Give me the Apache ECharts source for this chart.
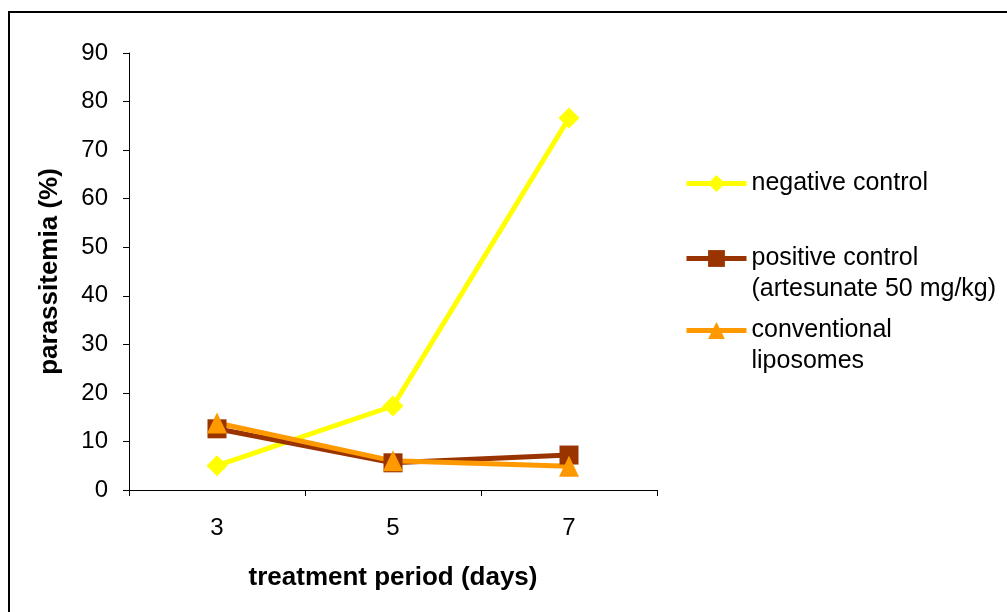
<!DOCTYPE html>
<html>
<head>
<meta charset="utf-8">
<title>parassitemia</title>
<script src="https://cdn.jsdelivr.net/npm/echarts@6/dist/echarts.min.js"></script>
<style>
  html, body { margin: 0; padding: 0; background: #fff; }
  #chart { width: 1007px; height: 612px; }
</style>
</head>
<body>
<div id="chart"></div>
<script>
// data
const days = ['3', '5', '7']
const negativeControl = [5, 17.3, 76.6]
const positiveControl = [12.6, 5.6, 7.2]
const conventionalLiposomes = [13.8, 6.0, 4.9]
const seriesNames = ['negative control', 'positive control', 'conventional liposomes']
// leading blank line keeps the icon level with the first text line
const legendLabels = ['negative control', '\npositive control\n(artesunate 50 mg/kg)', '\nconventional\nliposomes']
const yTicks = [0, 90, 10] // min, max, interval

const font = "'Liberation Sans', Arial, sans-serif"
const colors = ['#FFFF00', '#993300', '#FF9900']
const symbols = ['diamond', 'rect', 'triangle']
const symbolSizes = [[21, 21], [19, 19], [20, 21]]
const legendTops = [168, 212, 284]
const LH = 31

const chart = echarts.init(document.getElementById('chart'), null, { renderer: 'canvas' })

const seriesData = [negativeControl, positiveControl, conventionalLiposomes]

const option = {
  animation: false,
  backgroundColor: '#fff',
  textStyle: { fontFamily: font },
  grid: {
    left: 129,
    right: 350,
    top: 53,
    bottom: 122,
    containLabel: false
  },
  // one legend per entry so the multi-line labels can sit like the original
  legend: seriesNames.map((name, i) => ({
    data: [name],
    orient: 'vertical',
    left: 684,
    top: legendTops[i],
    padding: 0,
    itemWidth: 60,
    itemHeight: 21,
    selectedMode: false,
    lineStyle: { width: 5 },
    formatter: () => legendLabels[i],
    textStyle: {
      fontFamily: font,
      fontSize: 25,
      color: '#000',
      lineHeight: LH
    }
  })),
  xAxis: {
    type: 'category',
    data: days,
    boundaryGap: true,
    name: 'treatment period (days)',
    nameLocation: 'middle',
    nameGap: 75,
    nameTextStyle: { fontFamily: font, fontSize: 26, fontWeight: 'bold', color: '#000' },
    axisLine: { lineStyle: { color: '#000', width: 1 } },
    axisTick: { show: true, length: 6, alignWithLabel: false, lineStyle: { color: '#000' } },
    axisLabel: { margin: 26, fontFamily: font, fontSize: 24, color: '#000' },
    splitLine: { show: false }
  },
  yAxis: {
    type: 'value',
    min: yTicks[0],
    max: yTicks[1],
    interval: yTicks[2],
    name: 'parassitemia (%)',
    nameLocation: 'middle',
    nameGap: 66,
    nameTextStyle: { fontFamily: font, fontSize: 26, fontWeight: 'bold', color: '#000' },
    axisLine: { show: true, lineStyle: { color: '#000', width: 1 } },
    axisTick: { show: true, length: 6, lineStyle: { color: '#000' } },
    axisLabel: { margin: 21, fontFamily: font, fontSize: 24, color: '#000' },
    splitLine: { show: false }
  },
  series: seriesNames.map((name, i) => ({
    name: name,
    type: 'line',
    data: seriesData[i],
    symbol: symbols[i],
    symbolSize: symbolSizes[i],
    showAllSymbol: true,
    lineStyle: { color: colors[i], width: 5 },
    itemStyle: { color: colors[i] },
    emphasis: { disabled: true }
  })),
  graphic: [{
    type: 'rect',
    silent: true,
    z: -10,
    shape: { x: 9, y: 12, width: 1010, height: 620 },
    style: { fill: 'none', stroke: '#000', lineWidth: 2 }
  }]
}

chart.setOption(option)
</script>
</body>
</html>
